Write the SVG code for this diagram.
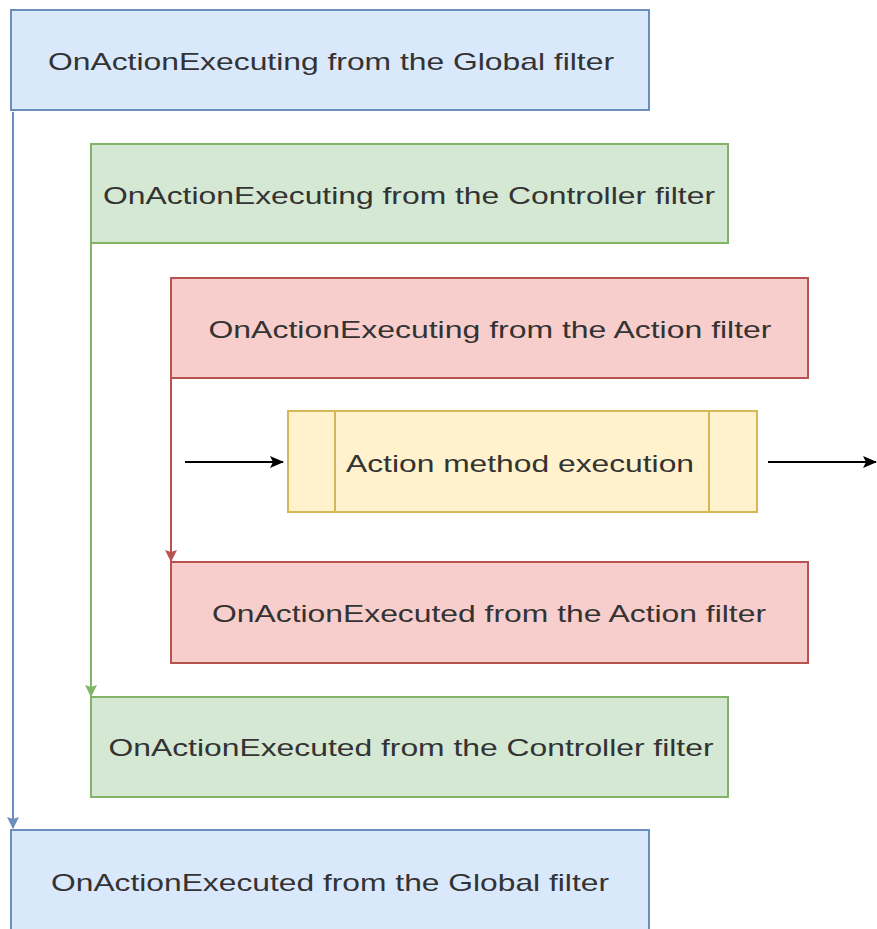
<svg xmlns="http://www.w3.org/2000/svg" width="877" height="929" viewBox="0 0 877 929">
<style>
text{font-family:"Liberation Sans",Arial,sans-serif;font-size:24px;fill:#333;text-anchor:middle}
.blue{fill:#dae8fc;stroke:#6c8ebf;stroke-width:2}
.green{fill:#d5e8d4;stroke:#82b366;stroke-width:2}
.red{fill:#f8cecc;stroke:#b85450;stroke-width:2}
.yellow{fill:#fff2cc;stroke:#d6b656;stroke-width:2}
.c{fill:none;stroke-width:2}
</style>
<defs>
<marker id="ab" markerWidth="12" markerHeight="12" refX="11" refY="6" orient="auto" markerUnits="userSpaceOnUse" viewBox="0 0 12 12"><path d="M0,0 L12,6 L0,12 L2,6 Z" fill="#6c8ebf"/></marker>
<marker id="ag" markerWidth="12" markerHeight="12" refX="11" refY="6" orient="auto" markerUnits="userSpaceOnUse" viewBox="0 0 12 12"><path d="M0,0 L12,6 L0,12 L2,6 Z" fill="#82b366"/></marker>
<marker id="ar" markerWidth="12" markerHeight="12" refX="11" refY="6" orient="auto" markerUnits="userSpaceOnUse" viewBox="0 0 12 12"><path d="M0,0 L12,6 L0,12 L2,6 Z" fill="#b85450"/></marker>
<marker id="ak" markerWidth="14" markerHeight="12" refX="13" refY="6" orient="auto" markerUnits="userSpaceOnUse" viewBox="0 0 14 12"><path d="M0,0 L14,6 L0,12 L3,6 Z" fill="#000"/></marker>
</defs>
<g id="global-executing"><rect class="blue" x="11" y="10" width="638" height="100"/><text x="331" y="70" textLength="566" lengthAdjust="spacingAndGlyphs">OnActionExecuting from the Global filter</text></g>
<g id="controller-executing"><rect class="green" x="91" y="144" width="637" height="99"/><text x="409" y="204" textLength="612" lengthAdjust="spacingAndGlyphs">OnActionExecuting from the Controller filter</text></g>
<g id="action-executing"><rect class="red" x="171" y="278" width="637" height="100"/><text x="490" y="338" textLength="563" lengthAdjust="spacingAndGlyphs">OnActionExecuting from the Action filter</text></g>
<g id="action-method"><rect class="yellow" x="288" y="411" width="469" height="101"/><line class="yellow" x1="335" y1="411" x2="335" y2="512"/><line class="yellow" x1="709" y1="411" x2="709" y2="512"/><text x="520" y="472" textLength="348" lengthAdjust="spacingAndGlyphs">Action method execution</text></g>
<g id="action-executed"><rect class="red" x="171" y="562" width="637" height="101"/><text x="489" y="622" textLength="554" lengthAdjust="spacingAndGlyphs">OnActionExecuted from the Action filter</text></g>
<g id="controller-executed"><rect class="green" x="91" y="697" width="637" height="100"/><text x="411" y="756" textLength="605" lengthAdjust="spacingAndGlyphs">OnActionExecuted from the Controller filter</text></g>
<g id="global-executed"><rect class="blue" x="11" y="830" width="638" height="110"/><text x="330" y="891" textLength="558" lengthAdjust="spacingAndGlyphs">OnActionExecuted from the Global filter</text></g>
<g id="connectors">
<line class="c" stroke="#6c8ebf" x1="13" y1="112" x2="13" y2="828" marker-end="url(#ab)"/>
<line class="c" stroke="#82b366" x1="91" y1="243" x2="91" y2="696" marker-end="url(#ag)"/>
<line class="c" stroke="#b85450" x1="171" y1="378" x2="171" y2="561" marker-end="url(#ar)"/>
<line class="c" stroke="#000" x1="185" y1="462" x2="283" y2="462" marker-end="url(#ak)"/>
<line class="c" stroke="#000" x1="768" y1="462" x2="876" y2="462" marker-end="url(#ak)"/>
</g>
</svg>
